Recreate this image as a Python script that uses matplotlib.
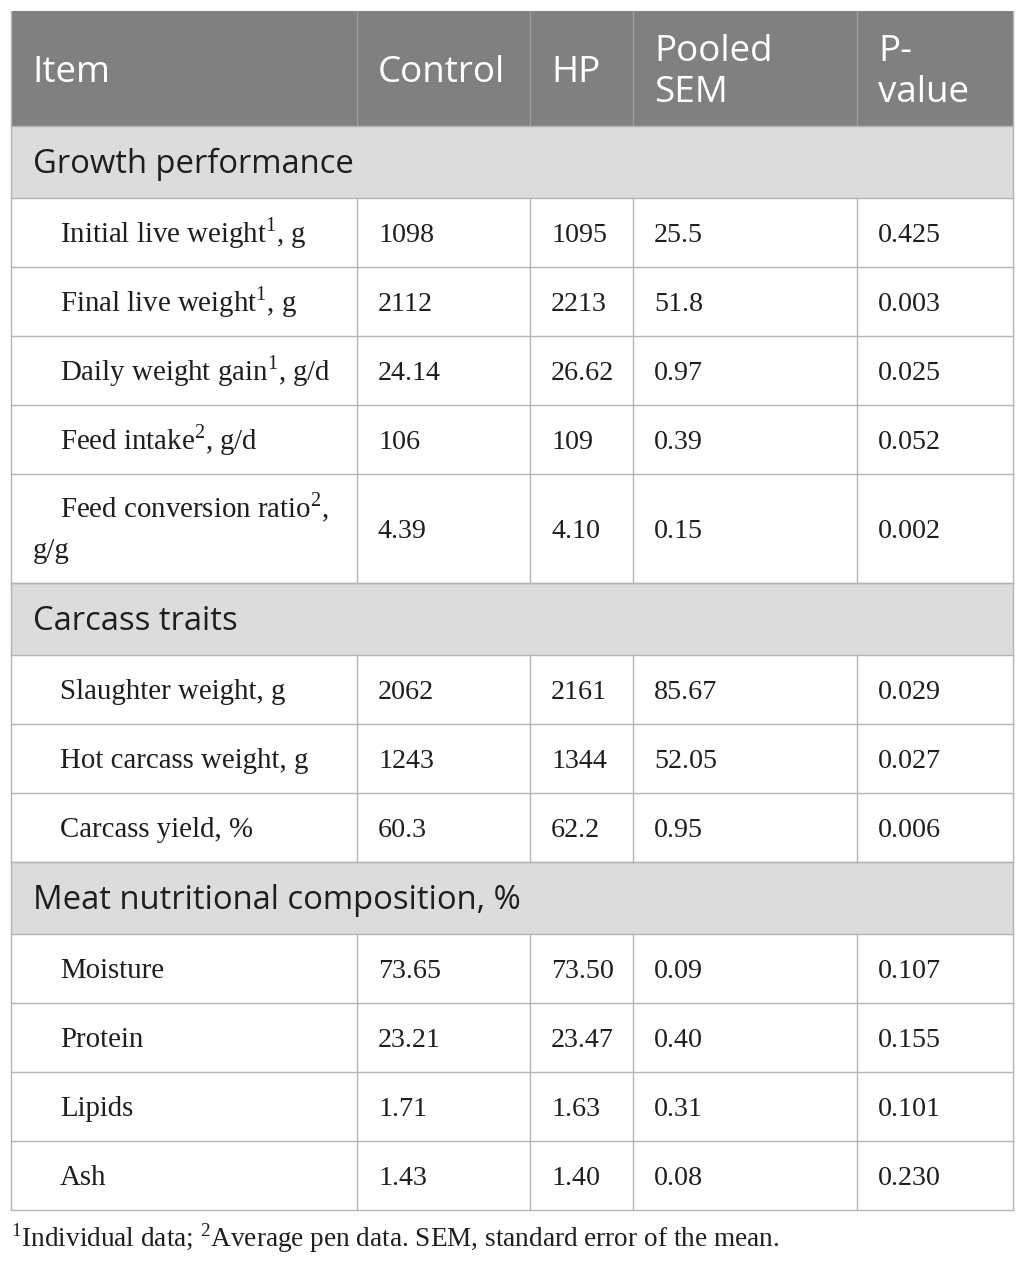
import matplotlib
matplotlib.use('Agg')
import matplotlib.pyplot as plt
from matplotlib.patches import Rectangle

plt.rcParams['mathtext.fontset'] = 'custom'
plt.rcParams['mathtext.rm'] = 'Liberation Serif'

# header
columns = ['Item', 'Control', 'HP', 'Pooled\nSEM', 'P-\nvalue']

# sections and rows
sections = ['Growth performance', 'Carcass traits', 'Meat nutritional composition, %']
items = [
    ['Initial live weight$^{1}$, g', 'Final live weight$^{1}$, g',
     'Daily weight gain$^{1}$, g/d', 'Feed intake$^{2}$, g/d',
     'Feed conversion ratio$^{2}$,\ng/g'],
    ['Slaughter weight, g', 'Hot carcass weight, g', 'Carcass yield, %'],
    ['Moisture', 'Protein', 'Lipids', 'Ash'],
]
control = [['1098', '2112', '24.14', '106', '4.39'],
           ['2062', '1243', '60.3'],
           ['73.65', '23.21', '1.71', '1.43']]
hp = [['1095', '2213', '26.62', '109', '4.10'],
      ['2161', '1344', '62.2'],
      ['73.50', '23.47', '1.63', '1.40']]
sem = [['25.5', '51.8', '0.97', '0.39', '0.15'],
       ['85.67', '52.05', '0.95'],
       ['0.09', '0.40', '0.31', '0.08']]
pvalue = [['0.425', '0.003', '0.025', '0.052', '0.002'],
          ['0.029', '0.027', '0.006'],
          ['0.107', '0.155', '0.101', '0.230']]
footnote = '$^{1}$Individual data; $^{2}$Average pen data. SEM, standard error of the mean.'

W, H = 1025, 1263
fig = plt.figure(figsize=(W / 100, H / 100), dpi=100)
ax = fig.add_axes([0, 0, 1, 1])
ax.set_xlim(0, W)
ax.set_ylim(H, 0)
ax.axis('off')

col_x = [11, 357, 530, 633, 857, 1013]
line_c = '#b4b4b4'
head_bg = '#808080'
sec_bg = '#dcdcdc'
txt_c = '#1e1e1e'
sans = 'Open Sans'
serif = 'Liberation Serif'
fs_head, fs_sec, fs_item, fs_val = 26.5, 23.6, 20.8, 20.2

left, right = col_x[0], col_x[-1]
pad = 21

# header row
y0, y1 = 11, 126
ax.add_patch(Rectangle((left, y0), right - left, y1 - y0, color=head_bg, lw=0))
for i, name in enumerate(columns):
    lines = name.split('\n')
    if len(lines) == 1:
        ax.text(col_x[i] + pad, 82, name, fontsize=fs_head, family=sans, color='white', va='baseline')
    else:
        ax.text(col_x[i] + pad, 61, lines[0], fontsize=fs_head, family=sans, color='white', va='baseline')
        ax.text(col_x[i] + pad, 102, lines[1], fontsize=fs_head, family=sans, color='white', va='baseline')
for x in col_x[1:-1]:
    ax.plot([x, x], [y0, y1], color='#9a9a9a', lw=1)

row_h = 69
sec_h = 72
y = y1
for s, sec in enumerate(sections):
    ax.add_patch(Rectangle((left, y), right - left, sec_h, color=sec_bg, lw=0))
    ax.text(left + 22, y + sec_h / 2 + 11, sec, fontsize=fs_sec, family=sans, color=txt_c, va='baseline')
    ax.plot([left, right], [y, y], color=line_c, lw=1)
    y += sec_h
    ax.plot([left, right], [y, y], color=line_c, lw=1)
    for r, item in enumerate(items[s]):
        two = '\n' in item
        h = 109 if two else row_h
        yc = y + h / 2
        if two:
            a, b = item.split('\n')
            ax.text(col_x[0] + 49, yc - 11, a, fontsize=fs_item, family=serif, color=txt_c, va='baseline')
            ax.text(col_x[0] + 22, yc + 29, b, fontsize=fs_item, family=serif, color=txt_c, va='baseline')
        else:
            ax.text(col_x[0] + 49, yc + 9.5, item, fontsize=fs_item, family=serif, color=txt_c, va='baseline')
        vals = [control[s][r], hp[s][r], sem[s][r], pvalue[s][r]]
        for c, v in enumerate(vals):
            ax.text(col_x[c + 1] + pad, yc + 9.5, v, fontsize=fs_val, family=serif, color=txt_c, va='baseline')
        for x in col_x[1:-1]:
            ax.plot([x, x], [y, y + h], color=line_c, lw=1)
        y += h
        ax.plot([left, right], [y, y], color=line_c, lw=1)

# outer border
ax.plot([left, left], [y0, y], color=line_c, lw=1)
ax.plot([right, right], [y0, y], color=line_c, lw=1)

ax.text(left, 1247, footnote, fontsize=19.6, family=serif, color=txt_c, va='baseline')

fig.savefig('out.png', dpi=100)
